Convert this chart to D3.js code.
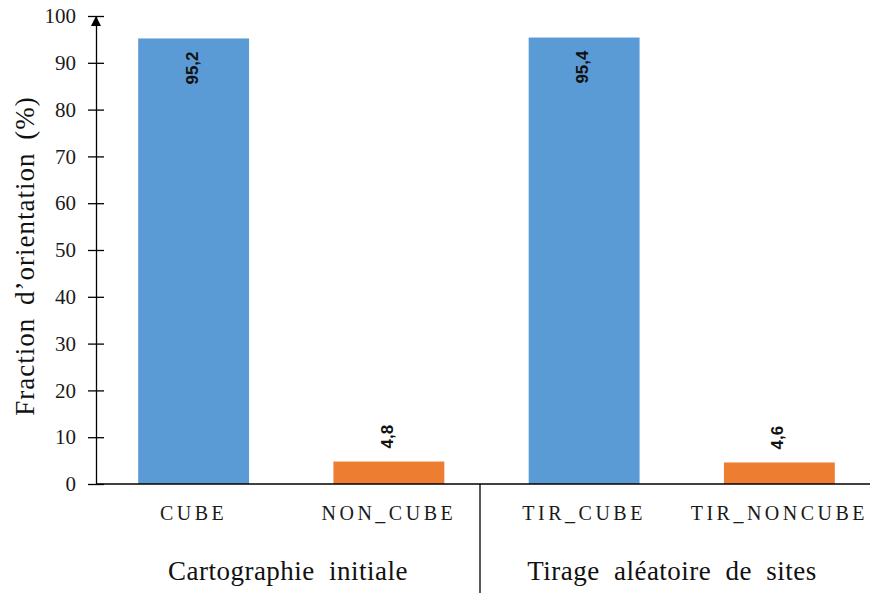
<!DOCTYPE html>
<html>
<head>
<meta charset="utf-8">
<script src="https://cdn.jsdelivr.net/npm/d3@7"></script>
<style>
  body { margin: 0; background: #fff; }
  svg text { font-family: "Liberation Serif", "Times New Roman", serif; }
</style>
</head>
<body>
<div id="chart"></div>
<script>
// data
const categories = ["CUBE", "NON_CUBE", "TIR_CUBE", "TIR_NONCUBE"];
const values = [95.2, 4.8, 95.4, 4.6];
const valueLabels = ["95,2", "4,8", "95,4", "4,6"];
const groups = ["Cartographie initiale", "Tirage aléatoire de sites"];
const groupOf = [0, 0, 1, 1];
const yTicks = [0, 10, 20, 30, 40, 50, 60, 70, 80, 90, 100];

const width = 870;
const height = 593;
const margin = {top: 16, right: 0, bottom: 109, left: 96};
const innerW = width - margin.left - margin.right;
const innerH = height - margin.top - margin.bottom;

const blue = "#5b9bd5";
const orange = "#ed7d31";

const svg = d3.select("#chart")
  .append("svg")
  .attr("width", width)
  .attr("height", height);

const g = svg.append("g")
  .attr("transform", `translate(${margin.left}, ${margin.top})`);

// category slots run a bit past the right edge (chart is cropped there)
const xScale = d3.scaleBand()
  .domain(categories)
  .range([0, 781])
  .paddingInner(0.432)
  .paddingOuter(0.216);

// group slots
const groupScale = d3.scaleBand()
  .domain(groups)
  .range([0, 768]);

const yScale = d3.scaleLinear()
  .domain([0, 100])
  .range([innerH, 0]);

// bars
g.selectAll("rect.bar")
  .data(categories)
  .join("rect")
  .attr("class", "bar")
  .attr("x", d => xScale(d))
  .attr("width", xScale.bandwidth())
  .attr("y", (d, i) => yScale(values[i]))
  .attr("height", (d, i) => yScale(0) - yScale(values[i]))
  .attr("fill", (d, i) => i % 2 === 0 ? blue : orange);

// value labels (rotated, inside for tall bars, above for short ones)
g.selectAll("text.val")
  .data(categories)
  .join("text")
  .attr("class", "val")
  .attr("transform", (d, i) => {
    const cx = xScale(d) + xScale.bandwidth() / 2 + 4;
    const y = values[i] > 50 ? yScale(values[i]) + 13 : yScale(values[i]) - 13;
    return `translate(${cx}, ${y}) rotate(-90)`;
  })
  .attr("text-anchor", (d, i) => values[i] > 50 ? "end" : "start")
  .style("font-family", "'Liberation Sans', Arial, sans-serif")
  .style("font-weight", "bold")
  .style("font-size", "17px")
  .attr("fill", "#111")
  .text((d, i) => valueLabels[i]);

// y axis
const yAxis = d3.axisLeft(yScale)
  .tickValues(yTicks)
  .tickSizeInner(8)
  .tickSizeOuter(0)
  .tickPadding(12);

const yAxisG = g.append("g").call(yAxis);
yAxisG.select(".domain").attr("stroke", "#000").attr("stroke-width", 1.3);
yAxisG.selectAll(".tick line")
  .attr("x1", 8)
  .attr("x2", -8)
  .attr("stroke", "#000")
  .attr("stroke-width", 1.3);
yAxisG.selectAll(".tick text")
  .style("font-family", "'Liberation Serif', 'Times New Roman', serif")
  .style("font-size", "21px")
  .attr("fill", "#1a1a1a");

// arrow head on y axis
g.append("path")
  .attr("d", `M-5,${yScale(100) + 10} L0,${yScale(100)} L5,${yScale(100) + 10} Z`)
  .attr("fill", "#000");

// x axis line
g.append("line")
  .attr("x1", 0)
  .attr("x2", innerW)
  .attr("y1", yScale(0))
  .attr("y2", yScale(0))
  .attr("stroke", "#000")
  .attr("stroke-width", 1.3);

// category labels
g.selectAll("text.cat")
  .data(categories)
  .join("text")
  .attr("class", "cat")
  .attr("x", d => xScale(d) + xScale.bandwidth() / 2)
  .attr("y", innerH + 36)
  .attr("text-anchor", "middle")
  .style("font-size", "20px")
  .style("letter-spacing", "3.5px")
  .attr("fill", "#1a1a1a")
  .text(d => d);

// group separator
const sepX = groupScale(groups[1]);
g.append("line")
  .attr("x1", sepX)
  .attr("x2", sepX)
  .attr("y1", yScale(0))
  .attr("y2", height - margin.top)
  .attr("stroke", "#000")
  .attr("stroke-width", 1.3);

// group labels
g.selectAll("text.grp")
  .data(groups)
  .join("text")
  .attr("class", "grp")
  .attr("x", d => groupScale(d) + groupScale.bandwidth() / 2)
  .attr("y", innerH + 96)
  .attr("text-anchor", "middle")
  .style("font-size", "27px")
  .style("letter-spacing", "0.5px")
  .style("word-spacing", "7px")
  .attr("fill", "#111")
  .text(d => d);

// y axis title
svg.append("text")
  .attr("transform", `translate(34, 256) rotate(-90)`)
  .attr("text-anchor", "middle")
  .style("font-size", "27px")
  .style("letter-spacing", "1px")
  .style("word-spacing", "5px")
  .attr("fill", "#111")
  .text("Fraction d’orientation (%)");
</script>
</body>
</html>
